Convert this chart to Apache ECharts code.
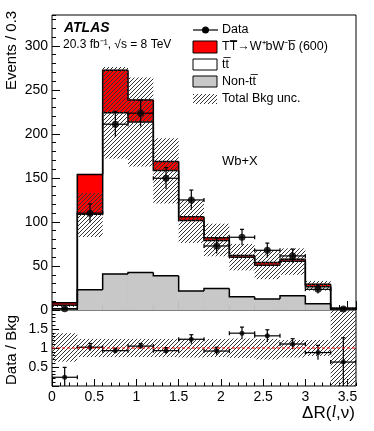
<!DOCTYPE html>
<html>
<head>
<meta charset="utf-8">
<script src="https://cdn.jsdelivr.net/npm/echarts@6/dist/echarts.min.js"></script>
<style>
html, body { margin: 0; padding: 0; background: #fff; }
#chart { width: 374px; height: 431px; }
</style>
</head>
<body>
<div id="chart"></div>
<script>
// bins of dR(l,nu), width 0.3
var binLo = [0, 0.3, 0.6, 0.9, 1.2, 1.5, 1.8, 2.1, 2.4, 2.7, 3.0, 3.3];
var binW = 0.3;

// stacked predictions (events / 0.3)
var nonTop = [1.5, 23, 41, 42.5, 39, 21.5, 24.5, 15, 12.5, 16.3, 7.2, 1];
var ttbar = [3.8, 85.7, 183, 171, 119.3, 80, 54.5, 45, 38.3, 39, 19.3, 0.8];
var signal = [3, 45.3, 48.3, 25.1, 10.2, 4.5, 3, 2, 3, 2.3, 2.7, 0.1];

// total bkg uncertainty band
var bandLo = [3.5, 83, 172, 163, 121, 76, 61, 45, 35, 40, 22, 0];
var bandHi = [7, 133, 276, 264, 195, 125, 98, 75, 68, 70, 33, 3];

// data
var dataVal = [1.3, 110, 211, 223.5, 149.6, 125, 72.7, 82.6, 67.8, 61.4, 23.5, 1.2];
var dataErr = [1.2, 10.5, 14.5, 15, 12.2, 11.2, 8.5, 9, 8.2, 7.8, 4.8, 1.1];

// ratio panel
var ratioVal = [0.23, 1.02, 0.93, 1.05, 0.93, 1.23, 0.92, 1.39, 1.32, 1.105, 0.88, 0.63];
var ratioErr = [0.26, 0.1, 0.065, 0.07, 0.08, 0.12, 0.1, 0.16, 0.16, 0.14, 0.19, 0.64];
var ratioBandLo = [0.64, 0.76, 0.76, 0.76, 0.76, 0.75, 0.76, 0.74, 0.70, 0.75, 0.79, 0];
var ratioBandHi = [1.39, 1.24, 1.24, 1.24, 1.24, 1.24, 1.235, 1.25, 1.24, 1.21, 1.21, 2];

var FONT = 'Liberation Sans';

// hatch pattern (like root fill style 3004)
var hatch = document.createElement('canvas');
var s = 4;
hatch.width = s; hatch.height = s;
var hc = hatch.getContext('2d');
hc.strokeStyle = '#333333';
hc.lineWidth = 1;
[-s, 0, s].forEach(function (o) {
  hc.beginPath();
  hc.moveTo(o - 1, s + 1);
  hc.lineTo(o + s + 1, -1);
  hc.stroke();
});
var hatchFill = { image: hatch, repeat: 'repeat' };

var totBkg = nonTop.map(function (v, i) { return v + ttbar[i]; });
var totSig = totBkg.map(function (v, i) { return v + signal[i]; });

function layersOf(i) {
  return [
    { top: totSig[i], bot: totBkg[i], prev: i > 0 ? totSig[i - 1] : 0, fill: '#ff0000' },
    { top: totBkg[i], bot: nonTop[i], prev: i > 0 ? totBkg[i - 1] : 0, fill: '#ffffff' },
    { top: nonTop[i], bot: 0, prev: i > 0 ? nonTop[i - 1] : 0, fill: '#c8c8c8' }
  ];
}

function renderFills(params, api) {
  var i = params.dataIndex;
  var x0 = api.value(0), x1 = x0 + binW;
  var ch = [];
  layersOf(i).forEach(function (L) {
    var a = api.coord([x0, L.top]), b = api.coord([x1, L.bot]);
    ch.push({ type: 'rect', shape: { x: a[0], y: a[1], width: b[0] - a[0], height: b[1] - a[1] },
      style: { fill: L.fill, stroke: L.fill, lineWidth: 0.6 } });
  });
  return { type: 'group', children: ch };
}

function renderOutlines(params, api) {
  var i = params.dataIndex;
  var x0 = api.value(0), x1 = x0 + binW;
  var ch = [];
  layersOf(i).forEach(function (L) {
    var pts = [api.coord([x0, L.prev]), api.coord([x0, L.top]), api.coord([x1, L.top])];
    if (i === binLo.length - 1) pts.push(api.coord([x1, 0]));
    ch.push({ type: 'polyline', shape: { points: pts }, style: { stroke: '#000', lineWidth: 1.5, fill: null } });
  });
  return { type: 'group', children: ch };
}

function renderBand(params, api) {
  var x0 = api.value(0), x1 = x0 + binW;
  var a = api.coord([x0, api.value(2)]), b = api.coord([x1, api.value(1)]);
  return { type: 'rect', shape: { x: a[0], y: a[1], width: b[0] - a[0], height: b[1] - a[1] }, style: { fill: hatchFill } };
}

function renderErr(params, api) {
  var x = api.value(0), y = api.value(1), e = api.value(2);
  var l = api.coord([x - binW / 2, y]), r = api.coord([x + binW / 2, y]);
  var lo = api.coord([x, Math.max(y - e, 0)]), hi = api.coord([x, y + e]);
  var st = { stroke: '#000', lineWidth: 1.2 };
  return { type: 'group', children: [
    { type: 'line', shape: { x1: l[0], y1: l[1], x2: r[0], y2: r[1] }, style: st },
    { type: 'line', shape: { x1: lo[0], y1: lo[1], x2: hi[0], y2: hi[1] }, style: st },
    { type: 'line', shape: { x1: l[0], y1: l[1] - 2, x2: l[0], y2: l[1] + 2 }, style: st },
    { type: 'line', shape: { x1: r[0], y1: r[1] - 2, x2: r[0], y2: r[1] + 2 }, style: st },
    { type: 'line', shape: { x1: hi[0] - 2, y1: hi[1], x2: hi[0] + 2, y2: hi[1] }, style: st }
  ] };
}

function xAxisDef(grid, interval, len, labels) {
  return {
    gridIndex: grid, type: 'value', min: 0, max: 3.6, interval: interval, position: 'bottom',
    axisLine: { show: false }, splitLine: { show: false },
    axisTick: { show: true, inside: true, length: len, lineStyle: { color: '#000', width: 1 } },
    axisLabel: labels ? { show: true, color: '#000', fontSize: 14, fontFamily: FONT, margin: 4, showMaxLabel: false } : { show: false }
  };
}

function yAxisDef(grid, max, interval, len, labels, fmt) {
  return {
    gridIndex: grid, type: 'value', min: 0, max: max, interval: interval, position: 'left',
    axisLine: { show: false }, splitLine: { show: false },
    axisTick: { show: true, inside: true, length: len, lineStyle: { color: '#000', width: 1 } },
    axisLabel: labels ? { show: true, color: '#000', fontSize: 14, fontFamily: FONT, margin: 4, showMaxLabel: false, formatter: fmt } : { show: false }
  };
}

var chart = echarts.init(document.getElementById('chart'));

var option = {
  animation: false,
  backgroundColor: '#fff',
  grid: [
    { left: 52, top: 15, right: 18, bottom: 121, show: true, borderColor: '#000', borderWidth: 1, backgroundColor: '#fff' },
    { left: 52, top: 310, right: 18, bottom: 45, show: true, borderColor: '#000', borderWidth: 1, backgroundColor: '#fff' }
  ],
  xAxis: [
    xAxisDef(0, 0.5, 9, false),
    xAxisDef(0, 0.1, 5, false),
    xAxisDef(1, 0.5, 7, true),
    xAxisDef(1, 0.1, 3.5, false)
  ],
  yAxis: [
    yAxisDef(0, 335, 50, 8, true),
    yAxisDef(0, 335, 10, 4, false),
    yAxisDef(1, 2, 0.5, 7, true, function (v) { return (v === 0.5 || v === 1 || v === 1.5) ? String(v) : ''; }),
    yAxisDef(1, 2, 0.1, 3.5, false)
  ],
  series: [
    { type: 'custom', xAxisIndex: 0, yAxisIndex: 0, clip: true, renderItem: renderFills,
      data: binLo.map(function (x, i) { return [x, i]; }) },
    { type: 'custom', xAxisIndex: 0, yAxisIndex: 0, clip: true, renderItem: renderOutlines,
      data: binLo.map(function (x, i) { return [x, i]; }) },
    { type: 'custom', xAxisIndex: 0, yAxisIndex: 0, clip: true, renderItem: renderBand,
      data: binLo.map(function (x, i) { return [x, bandLo[i], bandHi[i]]; }) },
    { type: 'custom', xAxisIndex: 0, yAxisIndex: 0, clip: true, renderItem: renderErr,
      data: binLo.map(function (x, i) { return [x + binW / 2, dataVal[i], dataErr[i]]; }) },
    { type: 'scatter', xAxisIndex: 0, yAxisIndex: 0, symbol: 'circle', symbolSize: 7, itemStyle: { color: '#000' },
      data: binLo.map(function (x, i) { return [x + binW / 2, dataVal[i]]; }) },

    { type: 'custom', xAxisIndex: 2, yAxisIndex: 2, clip: true, renderItem: renderBand,
      data: binLo.map(function (x, i) { return [x, ratioBandLo[i], ratioBandHi[i]]; }) },
    { type: 'line', xAxisIndex: 2, yAxisIndex: 2, symbol: 'none',
      lineStyle: { color: '#ff0000', width: 1, type: [3, 2] },
      data: [[0, 1], [3.6, 1]] },
    { type: 'custom', xAxisIndex: 2, yAxisIndex: 2, clip: true, renderItem: renderErr,
      data: binLo.map(function (x, i) { return [x + binW / 2, ratioVal[i], ratioErr[i]]; }) },
    { type: 'scatter', xAxisIndex: 2, yAxisIndex: 2, symbol: 'circle', symbolSize: 5, itemStyle: { color: '#000' },
      data: binLo.map(function (x, i) { return [x + binW / 2, ratioVal[i]]; }) }
  ],
  graphic: [
    { type: 'text', x: 64, y: 28, style: { text: 'ATLAS', fontFamily: FONT, fontSize: 14, fontWeight: 'bold', fontStyle: 'italic', fill: '#000', verticalAlign: 'middle' } },
    { type: 'text', x: 63, y: 44.5, style: { text: '20.3 fb\u207B\u00B9, \u221As = 8 TeV', fontFamily: FONT, fontSize: 12, fill: '#000', verticalAlign: 'middle' } },
    { type: 'text', x: 222, y: 161, style: { text: 'Wb+X', fontFamily: FONT, fontSize: 13, fill: '#000', verticalAlign: 'middle' } },

    // legend
    { type: 'line', shape: { x1: 193, y1: 30, x2: 218, y2: 30 }, style: { stroke: '#000', lineWidth: 1.2 } },
    { type: 'circle', shape: { cx: 205.5, cy: 30, r: 3.5 }, style: { fill: '#000' } },
    { type: 'rect', shape: { x: 193, y: 41, width: 24, height: 12 }, style: { fill: '#ff0000', stroke: '#000', lineWidth: 1 } },
    { type: 'rect', shape: { x: 193, y: 59, width: 24, height: 11 }, style: { fill: '#fff', stroke: '#000', lineWidth: 1 } },
    { type: 'rect', shape: { x: 193, y: 76, width: 24, height: 11 }, style: { fill: '#c8c8c8', stroke: '#000', lineWidth: 1 } },
    { type: 'rect', shape: { x: 193, y: 94, width: 24, height: 10 }, style: { fill: hatchFill } },
    { type: 'text', x: 222, y: 30, style: { text: 'Data', fontFamily: FONT, fontSize: 12.5, fill: '#000', verticalAlign: 'middle' } },
    { type: 'text', x: 222, y: 47, style: { text: 'TT\u0305\u2192W\u207AbW\u207Bb\u0305 (600)', fontFamily: FONT, fontSize: 12.5, fill: '#000', verticalAlign: 'middle' } },
    { type: 'text', x: 222, y: 64.5, style: { text: 'tt\u0305', fontFamily: FONT, fontSize: 12.5, fill: '#000', verticalAlign: 'middle' } },
    { type: 'text', x: 222, y: 81.5, style: { text: 'Non-tt\u0305', fontFamily: FONT, fontSize: 12.5, fill: '#000', verticalAlign: 'middle' } },
    { type: 'text', x: 222, y: 99, style: { text: 'Total Bkg unc.', fontFamily: FONT, fontSize: 12.5, fill: '#000', verticalAlign: 'middle' } },

    // axis titles
    { type: 'text', x: 12, y: 90, rotation: Math.PI / 2, style: { text: 'Events / 0.3', fontFamily: FONT, fontSize: 15, fill: '#000', align: 'left', verticalAlign: 'middle' } },
    { type: 'text', x: 12, y: 350, rotation: Math.PI / 2, style: { text: 'Data / Bkg', fontFamily: FONT, fontSize: 15, fill: '#000', align: 'center', verticalAlign: 'middle' } },
    { type: 'text', x: 355, y: 413, style: {
      text: '{a|\u0394R(}{b|l}{a|,\u03BD)}', align: 'right', verticalAlign: 'middle',
      rich: {
        a: { fontFamily: FONT, fontSize: 17, fill: '#000' },
        b: { fontFamily: 'Liberation Serif', fontSize: 17, fontStyle: 'italic', fill: '#000' }
      } } }
  ]
};

chart.setOption(option);
</script>
</body>
</html>
